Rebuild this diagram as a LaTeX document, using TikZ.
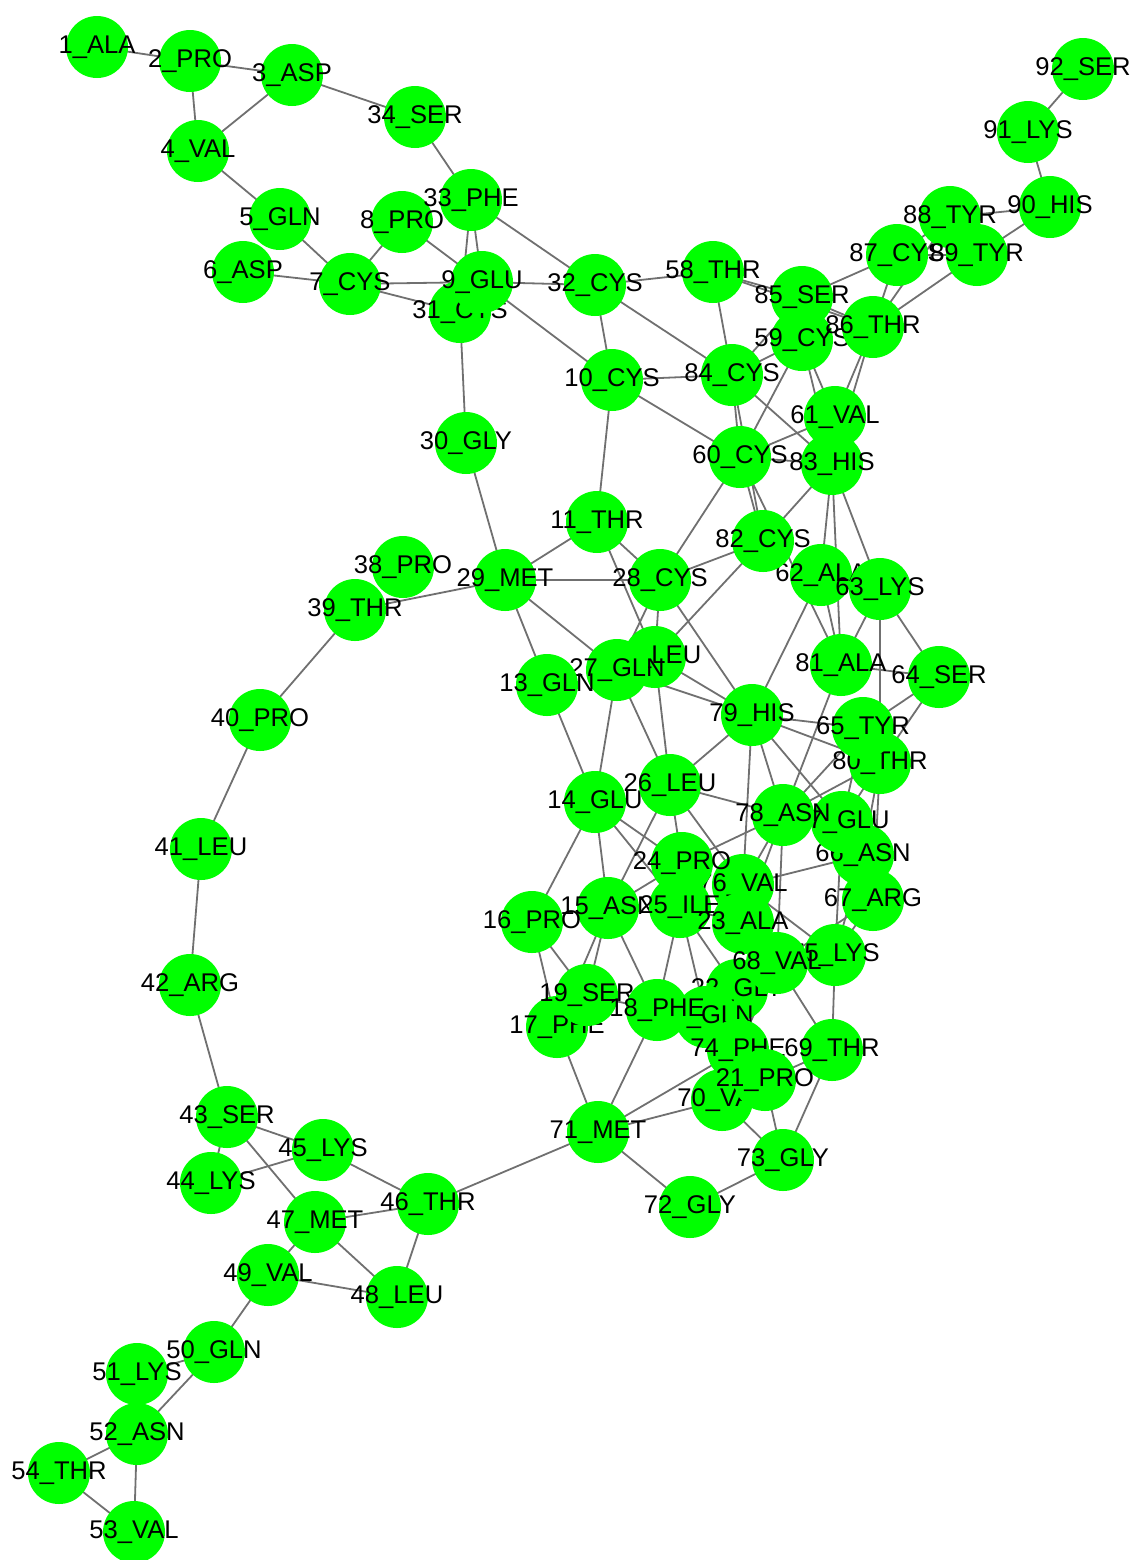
\documentclass[tikz,border=0pt]{standalone}
\usepackage{fontspec}
\setmainfont{Liberation Sans}
\usetikzlibrary{backgrounds}
\definecolor{nodegreen}{HTML}{00FF00}
\definecolor{edgegray}{HTML}{707070}
\tikzset{
  res/.style={circle,fill=nodegreen,inner sep=0pt,minimum size=31pt,
    label={[text=black,inner sep=0pt,font=\fontsize{12.8}{14}\selectfont]center:#1}},
  con/.style={draw=edgegray,line width=0.9pt}
}
\begin{document}
\begin{tikzpicture}[x=0.5pt,y=-0.5pt]
\useasboundingbox (0,0) rectangle (1138,1560);
\foreach \i/\x/\y/\t in {
1/97/47/ALA, 2/190/61/PRO, 3/292/75/ASP, 4/198/151/VAL, 5/280/219/GLN,
6/243/272/ASP, 7/350/284/CYS, 8/402/222/PRO, 31/460/312/CYS, 9/482/282/GLU,
10/612/380/CYS, 11/597/522/THR, 12/655/657/LEU, 27/617/670/GLN, 13/547/685/GLN,
14/595/802/GLU, 15/608/908/ASN, 16/532/922/PRO, 17/557/1027/PHE, 19/587/995/SER,
22/737/990/GLY, 20/706/1017/GLN, 18/657/1010/PHE, 76/743/885/VAL,
24/682/863/PRO, 25/680/907/ILE, 23/743/923/ALA, 26/670/785/LEU, 28/660/580/CYS,
29/505/580/MET, 30/466/443/GLY, 32/595/285/CYS, 33/471/200/PHE,
34/415/117/SER, 38/403/567/PRO, 39/355/610/THR, 40/260/720/PRO, 41/201/849/LEU,
42/190/985/ARG, 43/227/1117/SER, 44/211/1183/LYS, 45/323/1150/LYS, 46/428/1204/THR,
47/315/1222/MET, 48/397/1297/LEU, 49/268/1275/VAL, 50/214/1352/GLN, 51/137/1374/LYS,
52/137/1434/ASN, 53/134/1532/VAL, 54/59/1473/THR, 58/713/272/THR, 59/802/340/CYS,
60/740/457/CYS, 61/835/417/VAL, 62/821/575/ALA, 63/880/589/LYS, 64/939/677/SER,
66/863/855/ASN, 80/880/763/THR, 65/863/728/TYR, 67/873/900/ARG, 75/835/955/LYS,
68/777/963/VAL, 69/832/1050/THR, 70/722/1100/VAL, 74/738/1050/PHE, 21/765/1080/PRO,
71/598/1132/MET, 72/690/1207/GLY, 73/783/1160/GLY,
77/842/822/GLU, 78/783/815/ASN, 79/752/715/HIS,
81/841/665/ALA, 82/763/541/CYS, 83/832/464/HIS, 84/732/375/CYS,
85/802/297/SER, 86/873/327/THR, 87/897/255/CYS, 88/950/217/TYR, 89/977/255/TYR,
90/1050/207/HIS, 91/1028/132/LYS, 92/1083/69/SER}
  \node[res={\i\_\t}] (n\i) at (\x,\y) {};
\begin{pgfonlayer}{background}
\foreach \a/\b in {
1/2, 2/3, 2/4, 3/4, 3/34, 34/33, 4/5, 5/7, 6/7, 7/8, 7/9, 7/31, 8/9, 33/9, 33/31,
33/32, 9/32, 9/10, 31/30, 30/29,
32/58, 32/10, 32/84, 58/84, 58/85, 58/86, 10/84, 10/60, 10/11, 84/59, 84/85, 84/60,
84/82, 84/83, 59/60, 59/61, 59/83, 86/61, 86/83, 60/61, 60/83, 85/87, 86/87, 86/88,
86/89, 87/88, 87/89, 88/90, 89/90, 90/91, 91/92, 85/86, 85/59,
60/82, 60/28, 60/81, 83/82, 83/62, 83/63, 82/28, 82/12, 29/11, 29/28, 11/28, 11/12,
28/27, 28/12, 28/79, 29/27, 29/13, 12/79, 27/79, 62/81, 83/81, 63/81, 63/64, 63/80,
81/64, 62/79, 81/78, 64/65, 64/80, 79/65, 79/80, 79/26, 12/26, 27/26, 27/14, 13/14,
39/29,
26/78, 79/78, 79/76, 79/77, 14/16, 14/15, 14/24, 14/25, 26/24, 26/15, 26/76, 78/24,
78/68, 78/76, 78/23, 66/76, 76/75, 68/67, 15/24, 15/19, 15/17, 15/18, 16/17, 16/19,
25/18, 25/20, 25/22, 65/78, 80/78, 80/77, 65/77, 80/66, 80/67, 77/75, 66/75, 67/75,
75/69, 68/69, 74/68, 17/71, 18/71, 71/74, 71/70, 71/46, 71/72, 72/73, 73/70, 73/21,
73/69, 69/21, 19/18, 18/74, 25/23, 23/68, 22/68,
39/40, 40/41, 41/42, 42/43, 43/44, 43/45, 43/47, 44/45, 45/46, 46/47, 46/48, 47/48,
47/49, 49/48, 49/50, 50/51, 50/52, 51/52, 52/54, 52/53, 54/53}
  \draw[con] (n\a.center) -- (n\b.center);
\end{pgfonlayer}
\end{tikzpicture}
\end{document}
